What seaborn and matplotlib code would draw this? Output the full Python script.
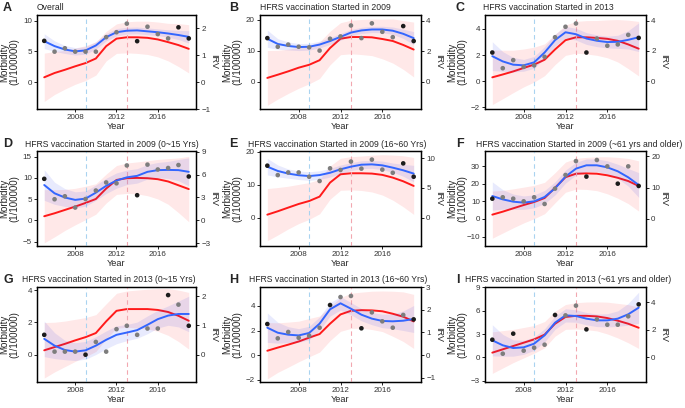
import numpy as np
import pandas as pd
import matplotlib
matplotlib.use('Agg')
import matplotlib.pyplot as plt
import seaborn as sns

years = list(range(2005, 2020))
x_ticks = [2008, 2012, 2016]

# A - overall
a_title = 'Overall'
a_points = [6.7, 4.95, 5.5, 4.95, 4.95, 4.95, 7.3, 8.1, 9.5, 6.65, 9.0, 7.8, 7.1, 8.9, 7.1]
a_dark = [1, 0, 0, 0, 0, 0, 0, 0, 0, 1, 0, 0, 0, 1, 1]
a_blue = [6.65, 5.85, 5.3, 5.0, 5.15, 5.95, 7.3, 8.1, 8.35, 8.4, 8.25, 8.1, 7.9, 7.65, 7.35]
a_blue_se = [1.2, 0.85, 0.65, 0.6, 0.6, 0.6, 0.6, 0.6, 0.55, 0.55, 0.55, 0.55, 0.6, 0.75, 1.0]
a_red = [0.18, 0.34, 0.46, 0.59, 0.71, 0.88, 1.34, 1.62, 1.67, 1.67, 1.65, 1.59, 1.49, 1.38, 1.24]
a_red_se = [0.9, 0.8, 0.72, 0.67, 0.65, 0.62, 0.55, 0.55, 0.58, 0.6, 0.62, 0.65, 0.7, 0.8, 0.9]
a_left_ticks = [0, 5, 10]
a_right_ticks = [-1, 0, 1, 2]

# B
b_title = 'HFRS vaccination Started in 2009'
b_points = [14.1, 11.3, 12.0, 11.3, 11.1, 10.05, 13.9, 14.65, 18.2, 14.1, 18.9, 16.15, 14.4, 18.0, 13.15]
b_dark = [1, 0, 0, 0, 0, 0, 0, 0, 0, 0, 0, 0, 0, 1, 1]
b_blue = [13.9, 12.2, 11.55, 11.2, 11.3, 12.0, 13.15, 14.5, 15.9, 16.6, 16.9, 16.9, 16.5, 15.5, 14.1]
b_blue_se = [2.8, 1.7, 1.3, 1.15, 1.1, 1.1, 1.1, 1.1, 1.0, 1.0, 1.0, 1.05, 1.2, 1.5, 2.1]
b_red = [0.24, 0.45, 0.67, 0.91, 1.1, 1.4, 2.2, 2.81, 2.92, 2.92, 2.9, 2.79, 2.66, 2.4, 2.1]
b_red_se = [1.8, 1.6, 1.45, 1.35, 1.25, 1.2, 1.1, 1.05, 1.1, 1.15, 1.2, 1.3, 1.45, 1.6, 1.8]
b_left_ticks = [0, 10, 20]
b_right_ticks = [0, 2, 4]

# C
c_title = 'HFRS vaccination Started in 2013'
c_points = [2.2, 1.0, 1.62, 1.1, 1.22, 1.87, 3.37, 4.17, 4.42, 2.2, 3.27, 2.72, 2.82, 3.55, 3.32]
c_dark = [1, 0, 0, 0, 0, 0, 0, 0, 0, 1, 0, 0, 0, 0, 1]
c_blue = [1.92, 1.52, 1.27, 1.22, 1.45, 2.2, 3.15, 3.75, 3.6, 3.27, 3.1, 3.0, 3.02, 3.17, 3.37]
c_blue_se = [1.1, 0.75, 0.55, 0.45, 0.45, 0.45, 0.45, 0.45, 0.45, 0.45, 0.45, 0.45, 0.5, 0.7, 1.1]
c_red = [0.26, 0.45, 0.65, 0.88, 1.1, 1.42, 2.1, 2.71, 2.9, 2.9, 2.86, 2.8, 2.67, 2.43, 2.15]
c_red_se = [1.8, 1.6, 1.4, 1.25, 1.15, 1.05, 1.0, 1.0, 1.05, 1.1, 1.15, 1.25, 1.4, 1.6, 1.8]
c_left_ticks = [-2, 0, 2, 4]
c_right_ticks = [0, 2, 4]

# D
d_title = 'HFRS vaccination Started in 2009 (0~15 Yrs)'
d_points = [9.75, 4.95, 5.65, 3.0, 5.0, 7.0, 8.9, 8.7, 12.9, 5.9, 13.1, 11.95, 12.3, 13.0, 10.3]
d_dark = [1, 0, 0, 0, 0, 0, 0, 0, 0, 1, 0, 0, 0, 0, 1]
d_blue = [8.3, 6.35, 5.35, 4.8, 5.1, 6.5, 8.1, 9.35, 10.1, 10.45, 11.4, 11.8, 11.85, 11.8, 11.4]
d_blue_se = [3.6, 2.6, 2.1, 1.9, 1.8, 1.8, 1.8, 1.8, 1.7, 1.7, 1.7, 1.8, 2.0, 2.5, 3.3]
d_red = [0.53, 0.92, 1.36, 1.8, 2.28, 2.8, 4.17, 5.3, 5.53, 5.57, 5.53, 5.4, 5.1, 4.6, 4.1]
d_red_se = [3.5, 3.1, 2.7, 2.4, 2.2, 2.0, 1.9, 1.9, 2.0, 2.1, 2.3, 2.6, 3.0, 3.6, 4.3]
d_left_ticks = [-5, 0, 5, 10, 15]
d_right_ticks = [-3, 0, 3, 6, 9]

# E
e_title = 'HFRS vaccination Started in 2009 (16~60 Yrs)'
e_points = [15.75, 12.9, 13.7, 13.7, 12.4, 11.1, 14.95, 14.45, 17.0, 14.85, 17.6, 14.55, 13.6, 16.45, 12.4]
e_dark = [1, 0, 0, 0, 0, 0, 0, 0, 0, 0, 0, 0, 0, 1, 1]
e_blue = [15.45, 14.15, 13.35, 12.85, 12.6, 12.9, 13.6, 14.65, 15.45, 16.05, 16.15, 15.85, 15.15, 14.35, 13.35]
e_blue_se = [2.5, 1.8, 1.4, 1.3, 1.3, 1.3, 1.3, 1.3, 1.2, 1.2, 1.2, 1.3, 1.4, 1.8, 2.5]
e_red = [0.5, 1.07, 1.69, 2.3, 2.8, 3.54, 5.9, 7.3, 7.47, 7.47, 7.42, 7.2, 6.74, 6.12, 5.34]
e_red_se = [4.4, 4.0, 3.6, 3.3, 3.1, 2.9, 2.8, 2.7, 2.8, 2.9, 3.1, 3.4, 3.8, 4.3, 4.8]
e_left_ticks = [0, 10, 20]
e_right_ticks = [0, 5, 10]

# F
f_title = 'HFRS vaccination Started in 2009 (~61 yrs and older)'
f_points = [11.5, 12.3, 11.5, 10.0, 12.3, 8.5, 17.2, 24.9, 32.8, 24.0, 33.4, 29.8, 20.0, 29.8, 18.7]
f_dark = [1, 0, 0, 0, 0, 0, 0, 0, 0, 1, 0, 0, 1, 0, 1]
f_blue = [13.0, 11.1, 9.8, 9.25, 10.0, 12.45, 17.35, 24.0, 28.5, 30.4, 30.4, 29.25, 27.0, 23.6, 19.25]
f_blue_se = [8.0, 5.5, 4.3, 3.8, 3.7, 3.7, 3.7, 3.7, 3.6, 3.6, 3.6, 3.7, 4.0, 5.0, 7.0]
f_red = [1.38, 2.33, 3.39, 4.44, 5.4, 6.67, 9.95, 13.3, 14.4, 14.5, 14.4, 13.9, 13.1, 12.07, 10.5]
f_red_se = [7.5, 6.8, 6.2, 5.7, 5.3, 5.0, 4.8, 4.8, 4.9, 5.1, 5.4, 5.9, 6.5, 7.2, 8.0]
f_left_ticks = [-10, 0, 10, 20, 30]
f_right_ticks = [0, 10, 20]

# G
g_title = 'HFRS vaccination Started in 2013 (0~15 Yrs)'
g_points = [1.23, 0.19, 0.19, 0.19, 0.0, 0.79, 0.19, 1.58, 1.79, 1.23, 1.62, 1.62, 3.69, 3.1, 1.79]
g_dark = [1, 0, 0, 0, 1, 0, 0, 0, 0, 0, 0, 0, 1, 0, 1]
g_blue = [0.98, 0.56, 0.29, 0.19, 0.27, 0.56, 0.92, 1.23, 1.37, 1.52, 1.85, 2.2, 2.42, 2.52, 2.52]
g_blue_se = [1.1, 0.8, 0.6, 0.55, 0.55, 0.55, 0.55, 0.55, 0.5, 0.5, 0.55, 0.55, 0.6, 0.8, 1.1]
g_red = [0.15, 0.26, 0.37, 0.49, 0.6, 0.74, 1.14, 1.5, 1.56, 1.56, 1.56, 1.53, 1.46, 1.33, 1.16]
g_red_se = [0.95, 0.85, 0.78, 0.72, 0.67, 0.63, 0.6, 0.6, 0.62, 0.65, 0.68, 0.73, 0.8, 0.88, 0.97]
g_left_ticks = [0, 2, 4]
g_right_ticks = [0, 1, 2]

# H
h_title = 'HFRS vaccination Started in 2013 (16~60 Yrs)'
h_points = [2.53, 1.36, 1.88, 1.41, 1.58, 2.23, 4.08, 4.73, 4.82, 2.18, 3.48, 2.75, 2.23, 3.27, 2.91]
h_dark = [1, 0, 0, 0, 0, 0, 1, 0, 0, 1, 0, 0, 0, 0, 1]
h_blue = [2.23, 1.82, 1.66, 1.6, 1.8, 2.56, 3.73, 4.22, 3.78, 3.29, 2.97, 2.78, 2.75, 2.8, 2.94]
h_blue_se = [1.2, 0.85, 0.65, 0.55, 0.55, 0.55, 0.55, 0.55, 0.5, 0.5, 0.5, 0.55, 0.6, 0.8, 1.1]
h_red = [0.19, 0.33, 0.46, 0.6, 0.77, 0.93, 1.39, 1.8, 1.96, 1.99, 1.98, 1.94, 1.83, 1.7, 1.49]
h_red_se = [1.25, 1.1, 1.0, 0.9, 0.85, 0.8, 0.75, 0.75, 0.78, 0.8, 0.85, 0.9, 1.0, 1.1, 1.2]
h_left_ticks = [-2, 0, 2, 4]
h_right_ticks = [-1, 0, 1, 2, 3]

# I
i_title = 'HFRS vaccination Started in 2013 (~61 yrs and older)'
i_points = [2.27, 0.47, 3.05, 0.86, 1.24, 1.63, 5.45, 5.4, 6.65, 3.6, 4.89, 4.2, 4.2, 5.28, 6.82]
i_dark = [1, 0, 1, 0, 0, 0, 1, 0, 0, 1, 0, 0, 0, 0, 1]
i_blue = [2.19, 1.55, 1.2, 1.29, 1.76, 2.83, 4.46, 5.4, 5.32, 4.98, 4.76, 4.76, 4.98, 5.54, 6.39]
i_blue_se = [2.0, 1.4, 1.05, 0.9, 0.85, 0.85, 0.85, 0.85, 0.8, 0.8, 0.8, 0.85, 1.0, 1.4, 2.0]
i_red = [0.34, 0.58, 0.82, 1.06, 1.3, 1.64, 2.43, 2.92, 3.0, 3.0, 2.96, 2.84, 2.65, 2.43, 2.14]
i_red_se = [1.5, 1.35, 1.2, 1.1, 1.0, 0.95, 0.9, 0.9, 0.95, 1.0, 1.05, 1.15, 1.25, 1.38, 1.5]
i_left_ticks = [-3, 0, 3, 6, 9]
i_right_ticks = [0, 2, 4]

sns.set_theme(style='ticks')
plt.rcParams['font.family'] = ['Liberation Sans', 'DejaVu Sans']

W, H = 685, 408
fig = plt.figure(figsize=(W / 100, H / 100), dpi=100)

# letter, title, data, ticks, left ylim, morbidity per IRV, title x (px)
panels = [
    ('A', a_title, a_points, a_dark, a_blue, a_blue_se, a_red, a_red_se, a_left_ticks, a_right_ticks, (-4.36, 10.9), 4.36, 37),
    ('B', b_title, b_points, b_dark, b_blue, b_blue_se, b_red, b_red_se, b_left_ticks, b_right_ticks, (-8.9, 21.6), 4.95, 260),
    ('C', c_title, c_points, c_dark, c_blue, c_blue_se, c_red, c_red_se, c_left_ticks, c_right_ticks, (-2.12, 5.07), 1.16, 483),
    ('D', d_title, d_points, d_dark, d_blue, d_blue_se, d_red, d_red_se, d_left_ticks, d_right_ticks, (-6.05, 16.3), 1.79, 25),
    ('E', e_title, e_points, e_dark, e_blue, e_blue_se, e_red, e_red_se, e_left_ticks, e_right_ticks, (-8.6, 20.2), 1.8, 248),
    ('F', f_title, f_points, f_dark, f_blue, f_blue_se, f_red, f_red_se, f_left_ticks, f_right_ticks, (-15.3, 38.5), 1.78, 476),
    ('G', g_title, g_points, g_dark, g_blue, g_blue_se, g_red, g_red_se, g_left_ticks, g_right_ticks, (-1.69, 4.19), 1.81, 22),
    ('H', h_title, h_points, h_dark, h_blue, h_blue_se, h_red, h_red_se, h_left_ticks, h_right_ticks, (-2.2, 5.55), 1.84, 249),
    ('I', i_title, i_points, i_dark, i_blue, i_blue_se, i_red, i_red_se, i_left_ticks, i_right_ticks, (-3.17, 9.05), 1.78, 465),
]

col_left = [37, 260, 485]
col_right = [196, 421, 646]
row_top = [15, 151, 287]
row_bot = [109, 246, 382]

for n, p in enumerate(panels):
    letter, title, pts, dark, blue, blue_se, red, red_se, lt, rt, ylim, k, tx = p
    r, c = n // 3, n % 3
    x0, x1, y0, y1 = col_left[c], col_right[c], row_top[r], row_bot[r]
    ax = fig.add_axes([x0 / W, 1 - y1 / H, (x1 - x0) / W, (y1 - y0) / H])
    ax2 = ax.twinx()

    df = pd.DataFrame({'year': years, 'mor': pts, 'dark': dark,
                       'blue': blue, 'blue_se': blue_se, 'red': red, 'red_se': red_se})

    # red (IRV) on the secondary axis
    ax2.fill_between(df['year'], df['red'] - df['red_se'], df['red'] + df['red_se'],
                     color='#ff0000', alpha=0.09, lw=0)
    sns.lineplot(data=df, x='year', y='red', color='#ff1a1a', lw=1.4, ax=ax2)
    ax2.set_ylim(ylim[0] / k, ylim[1] / k)
    ax2.set_yticks(rt)

    ax.axvline(2009, color='#a9d3f0', ls=(0, (4, 3)), lw=0.8, zorder=1)
    ax.axvline(2013, color='#f2a7b0', ls=(0, (4, 3)), lw=0.8, zorder=1)
    ax.fill_between(df['year'], df['blue'] - df['blue_se'], df['blue'] + df['blue_se'],
                    color='#2233ee', alpha=0.1, lw=0)
    sns.lineplot(data=df, x='year', y='blue', color='#3366FF', lw=1.4, ax=ax)
    sns.scatterplot(data=df, x='year', y='mor', hue='dark', palette={0: '#7d7d7d', 1: '#1c1c1c'},
                    s=11, linewidth=0, legend=False, ax=ax, zorder=5)
    ax.set_zorder(ax2.get_zorder() + 1)
    ax.patch.set_visible(False)

    ax.set_xlim(2004.3, 2019.7)
    ax.set_xticks(x_ticks)
    ax.set_ylim(ylim)
    ax.set_yticks(lt)

    for a in (ax, ax2):
        a.tick_params(labelsize=5.8, length=2.5, width=0.6, pad=1.2, colors='#333333')
        a.tick_params(axis='both', color='black')
        for s in a.spines.values():
            s.set_visible(True)
            s.set_color('black')
            s.set_linewidth(0.9)

    ax.set_xlabel('Year', fontsize=6.6, labelpad=0.5)
    ax.set_ylabel('Morbidity\n(1/100000)', fontsize=7.0, linespacing=1.0)
    ax.yaxis.set_label_coords(-18 / (x1 - x0), 0.5)
    ax2.set_ylabel('IRV', fontsize=6.6, rotation=-90, va='bottom')
    ax2.yaxis.set_label_coords(1 + 13 / (x1 - x0), 0.5)

    fig.text([3, 229, 456][c] / W, 1 - (y0 - 7) / H, letter, fontsize=9, fontweight='bold',
             ha='left', va='center')
    fig.text(tx / W, 1 - (y0 - 7) / H, title, fontsize=6.2, ha='left', va='center')

fig.savefig('out.png', dpi=100)
